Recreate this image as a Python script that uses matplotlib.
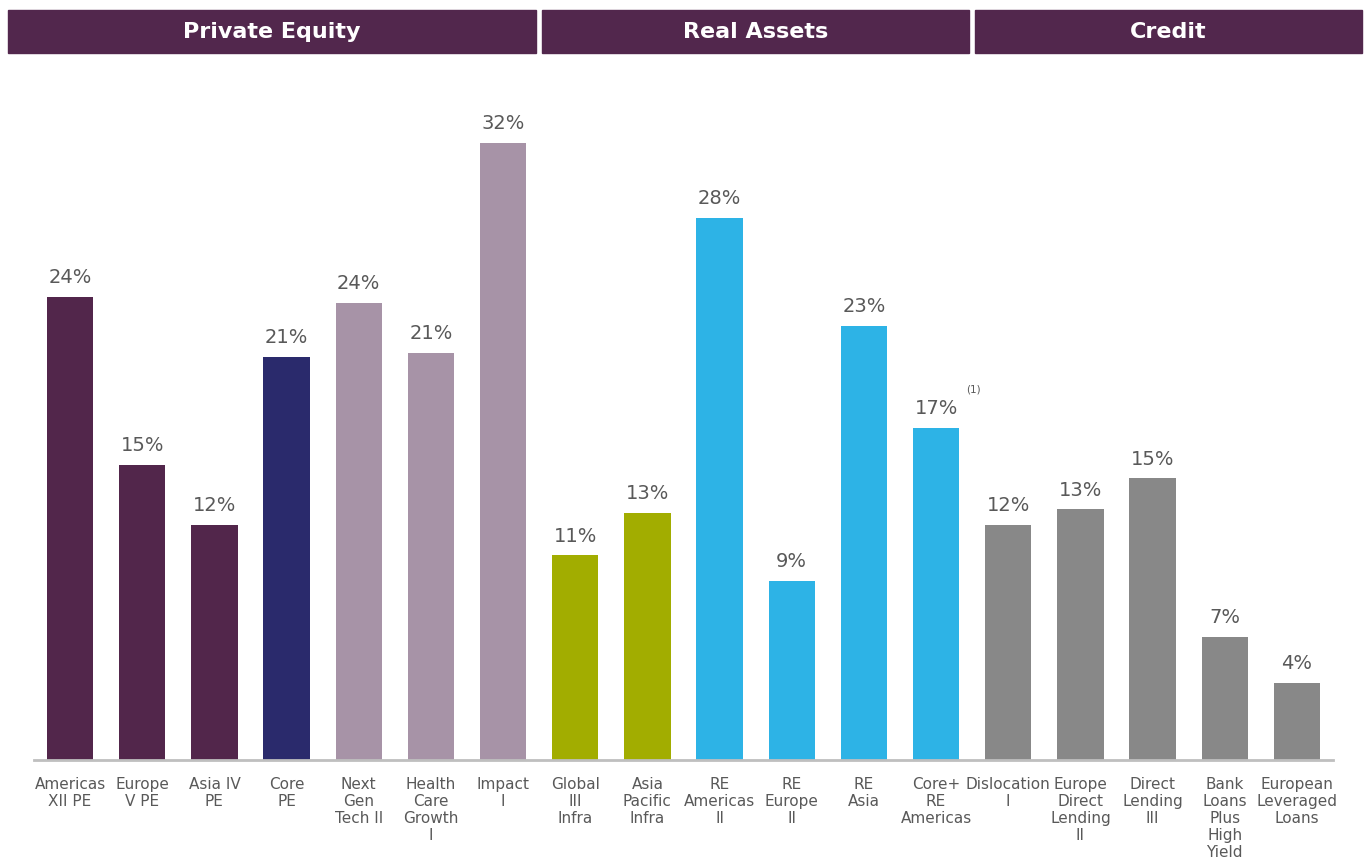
import matplotlib.pyplot as plt
from matplotlib.patches import Rectangle

# data
labels = ["Americas\nXII PE", "Europe\nV PE", "Asia IV\nPE", "Core\nPE",
          "Next\nGen\nTech II", "Health\nCare\nGrowth\nI", "Impact\nI",
          "Global\nIII\nInfra", "Asia\nPacific\nInfra", "RE\nAmericas\nII",
          "RE\nEurope\nII", "RE\nAsia", "Core+\nRE\nAmericas",
          "Dislocation\nI", "Europe\nDirect\nLending\nII", "Direct\nLending\nIII",
          "Bank\nLoans\nPlus\nHigh\nYield", "European\nLeveraged\nLoans"]
heights = [24.0, 15.3, 12.2, 20.9, 23.7, 21.1, 32.0,
           10.6, 12.8, 28.1, 9.3, 22.5, 17.2,
           12.2, 13.0, 14.6, 6.4, 4.0]
value_text = ["24%", "15%", "12%", "21%", "24%", "21%", "32%",
              "11%", "13%", "28%", "9%", "23%", "17%",
              "12%", "13%", "15%", "7%", "4%"]
colors = ["#52264B"] * 3 + ["#2A2A6C"] + ["#A793A7"] * 3 + \
         ["#A2AD00"] * 2 + ["#2DB3E6"] * 4 + ["#888888"] * 5
groups = [("Private Equity", 0, 6), ("Real Assets", 7, 12), ("Credit", 13, 17)]

W, H = 1368, 865
fig = plt.figure(figsize=(W / 100, H / 100), dpi=100)
ax = fig.add_axes([34 / W, 105 / H, 1299 / W, 656 / H])

x = list(range(len(heights)))
ax.bar(x, heights, width=0.64, color=colors, zorder=2)
ax.set_xlim(-0.5, len(heights) - 0.5)
ax.set_ylim(0, 34)

for xi, h, t in zip(x, heights, value_text):
    ax.text(xi, h + 0.5, t, ha="center", va="bottom", fontsize=14,
            color="#595959")
ax.text(12.42, 17.2 + 1.75, "(1)", ha="left", va="bottom", fontsize=7.5,
        color="#595959")

ax.set_xticks(x)
ax.set_xticklabels(labels, fontsize=11, color="#595959", linespacing=1.18)
ax.tick_params(axis="x", length=0, pad=12)
ax.set_yticks([])
for s in ["top", "right", "left"]:
    ax.spines[s].set_visible(False)
ax.spines["bottom"].set_color("#BFBFBF")
ax.spines["bottom"].set_linewidth(2)

# group headers
px_per_unit = 1299 / len(heights)
for i, (name, a, b) in enumerate(groups):
    left = 34 + a * px_per_unit + 3
    right = 34 + (b + 1) * px_per_unit - 3
    if i == 0:
        left = 8
    if i == len(groups) - 1:
        right = 1362
    fig.patches.append(Rectangle((left / W, 1 - 53 / H), (right - left) / W,
                                 43 / H, transform=fig.transFigure,
                                 color="#52274D", zorder=1))
    fig.text((left + right) / 2 / W, 1 - 31.5 / H, name, ha="center",
             va="center", fontsize=16, fontweight="bold", color="white")

fig.savefig("out.png", dpi=100)
